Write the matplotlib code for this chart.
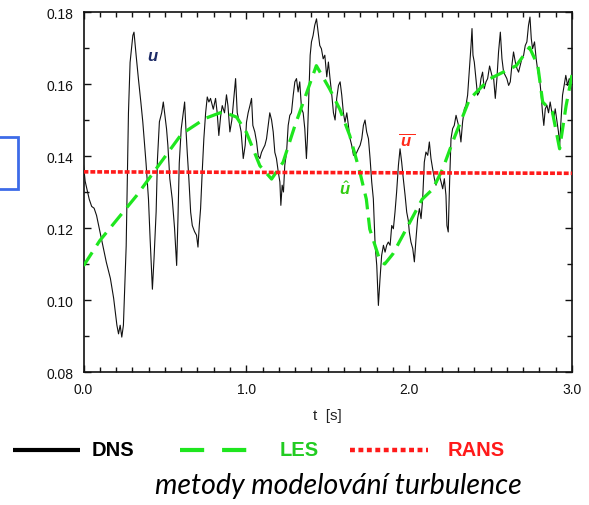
import matplotlib
matplotlib.use("Agg")
import matplotlib.pyplot as plt
from matplotlib.lines import Line2D
from matplotlib.patches import Rectangle
from matplotlib.ticker import MultipleLocator

# DNS trace (time [s], u)
dns_t = [0.0, 0.01, 0.02, 0.035, 0.05, 0.065, 0.08, 0.11, 0.14, 0.165, 0.185, 0.205,
         0.215, 0.225, 0.235, 0.245, 0.262, 0.276, 0.286, 0.303, 0.31, 0.323, 0.337,
         0.352, 0.364, 0.372, 0.384, 0.399, 0.409, 0.423, 0.433, 0.446, 0.454, 0.466,
         0.48, 0.49, 0.51, 0.518, 0.53, 0.545, 0.559, 0.572, 0.58, 0.588, 0.6, 0.613,
         0.621, 0.629, 0.637, 0.647, 0.658, 0.668, 0.682, 0.694, 0.703, 0.711, 0.719,
         0.729, 0.739, 0.75, 0.76, 0.77, 0.78, 0.797, 0.811, 0.821, 0.831, 0.842,
         0.852, 0.866, 0.878, 0.887, 0.899, 0.911, 0.923, 0.934, 0.944, 0.954, 0.968,
         0.981, 0.993, 1.001, 1.011, 1.022, 1.032, 1.04, 1.052, 1.063, 1.073, 1.083,
         1.093, 1.103, 1.114, 1.124, 1.134, 1.144, 1.155, 1.165, 1.175, 1.185, 1.196,
         1.206, 1.212, 1.22, 1.228, 1.236, 1.247, 1.257, 1.267, 1.277, 1.288, 1.298,
         1.308, 1.318, 1.328, 1.339, 1.349, 1.359, 1.369, 1.375, 1.384, 1.392, 1.4,
         1.41, 1.42, 1.431, 1.441, 1.451, 1.461, 1.472, 1.482, 1.494, 1.504, 1.514,
         1.525, 1.535, 1.545, 1.555, 1.566, 1.576, 1.586, 1.596, 1.606, 1.617, 1.627,
         1.637, 1.647, 1.658, 1.668, 1.678, 1.688, 1.699, 1.709, 1.719, 1.729, 1.739,
         1.75, 1.76, 1.77, 1.78, 1.791, 1.801, 1.811, 1.821, 1.831, 1.842, 1.852,
         1.862, 1.872, 1.883, 1.893, 1.903, 1.913, 1.923, 1.934, 1.944, 1.954, 1.964,
         1.975, 1.985, 1.995, 2.001, 2.011, 2.022, 2.032, 2.042, 2.052, 2.063, 2.073,
         2.083, 2.093, 2.103, 2.114, 2.124, 2.134, 2.144, 2.155, 2.165, 2.175, 2.185,
         2.196, 2.206, 2.216, 2.226, 2.232, 2.24, 2.249, 2.257, 2.267, 2.277, 2.288,
         2.298, 2.308, 2.318, 2.328, 2.339, 2.349, 2.359, 2.369, 2.38, 2.386, 2.392,
         2.4, 2.41, 2.42, 2.431, 2.441, 2.451, 2.461, 2.472, 2.482, 2.494, 2.508,
         2.519, 2.529, 2.539, 2.549, 2.56, 2.57, 2.58, 2.59, 2.6, 2.611, 2.621, 2.631,
         2.641, 2.652, 2.662, 2.672, 2.682, 2.692, 2.703, 2.713, 2.723, 2.733, 2.742,
         2.75, 2.758, 2.77, 2.78, 2.791, 2.801, 2.811, 2.819, 2.827, 2.836, 2.846,
         2.856, 2.866, 2.877, 2.887, 2.897, 2.907, 2.917, 2.924, 2.932, 2.942, 2.952,
         2.962, 2.973, 2.983, 2.995]
dns_u = [0.1375, 0.133, 0.131, 0.128, 0.126, 0.1255, 0.1235, 0.117, 0.1105, 0.106,
         0.1005, 0.093, 0.0906, 0.093, 0.0897, 0.093, 0.115, 0.152, 0.166, 0.1735,
         0.1744, 0.168, 0.1615, 0.155, 0.1495, 0.145, 0.138, 0.128, 0.117, 0.103,
         0.1115, 0.1245, 0.139, 0.1495, 0.152, 0.155, 0.1475, 0.143, 0.1337, 0.128,
         0.12, 0.1096, 0.1226, 0.138, 0.1475, 0.152, 0.155, 0.1475, 0.141, 0.1337,
         0.1244, 0.1207, 0.119, 0.118, 0.1147, 0.1207, 0.1254, 0.1356, 0.1448, 0.152,
         0.1564, 0.155, 0.156, 0.153, 0.156, 0.152, 0.1457, 0.151, 0.154, 0.152, 0.157,
         0.154, 0.1467, 0.150, 0.156, 0.1615, 0.152, 0.150, 0.1467, 0.1393, 0.143,
         0.1494, 0.152, 0.154, 0.156, 0.1485, 0.1467, 0.1439, 0.140, 0.1393, 0.141,
         0.142, 0.143, 0.1448, 0.1485, 0.152, 0.150, 0.1467, 0.141, 0.1393, 0.1356,
         0.1328, 0.1263, 0.1319, 0.130, 0.1374, 0.141, 0.1485, 0.1513, 0.152, 0.1569,
         0.1606, 0.1615, 0.1578, 0.1606, 0.1531, 0.152, 0.1476, 0.1393, 0.1448, 0.1569,
         0.168, 0.1717, 0.1735, 0.1763, 0.1781, 0.1744, 0.1707, 0.1698, 0.167, 0.168,
         0.1620, 0.1661, 0.1615, 0.1569, 0.152, 0.150, 0.156, 0.1596, 0.1606, 0.1569,
         0.152, 0.1494, 0.152, 0.1485, 0.1448, 0.143, 0.1402, 0.1402, 0.141, 0.142,
         0.143, 0.1448, 0.1485, 0.150, 0.1467, 0.1448, 0.1393, 0.1328, 0.1281, 0.1152,
         0.1096, 0.0985, 0.1059, 0.1124, 0.1152, 0.1133, 0.1152, 0.1161, 0.1152,
         0.1207, 0.1198, 0.1244, 0.130, 0.1374, 0.142, 0.1383, 0.1337, 0.1291, 0.1244,
         0.122, 0.1189, 0.1161, 0.1143, 0.1106, 0.117, 0.1226, 0.1254, 0.1226, 0.1281,
         0.1383, 0.1411, 0.1402, 0.1439, 0.1393, 0.1365, 0.1337, 0.1319, 0.1337,
         0.1346, 0.1328, 0.1309, 0.1337, 0.1291, 0.1207, 0.1189, 0.1337, 0.1448,
         0.1476, 0.1485, 0.1513, 0.1494, 0.1476, 0.1439, 0.1494, 0.1531, 0.1541,
         0.1569, 0.1633, 0.1707, 0.1754, 0.168, 0.1661, 0.1615, 0.1569, 0.1578, 0.1615,
         0.1633, 0.1587, 0.1606, 0.1615, 0.1650, 0.1624, 0.1615, 0.156, 0.1615, 0.1689,
         0.1744, 0.167, 0.1633, 0.1624, 0.1615, 0.1596, 0.1606, 0.1652, 0.1689, 0.1661,
         0.1643, 0.1633, 0.1652, 0.167, 0.168, 0.1707, 0.1717, 0.1763, 0.1786, 0.1726,
         0.1698, 0.1717, 0.167, 0.1633, 0.1615, 0.1569, 0.152, 0.1485, 0.1531, 0.1541,
         0.152, 0.155, 0.152, 0.150, 0.1531, 0.150, 0.1467, 0.1425, 0.1494, 0.1569,
         0.1596, 0.1624, 0.1596, 0.1615, 0.1606]

# LES (filtered) curve
les_t = [0.0, 0.1, 0.326, 0.602, 0.75, 0.856, 0.94, 1.0, 1.083, 1.155, 1.226, 1.298,
         1.43, 1.512, 1.574, 1.635, 1.697, 1.737, 1.758, 1.82, 1.85, 1.9, 2.08, 2.145,
         2.206, 2.267, 2.371, 2.493, 2.658, 2.739, 2.79, 2.82, 2.88, 2.924, 2.964, 3.0]
les_u = [0.1095, 0.1165, 0.129, 0.1461, 0.1505, 0.1523, 0.1508, 0.1466, 0.1373,
         0.1336, 0.1383, 0.1484, 0.1651, 0.1586, 0.153, 0.1457, 0.1356, 0.128, 0.1197,
         0.111, 0.110, 0.1128, 0.128, 0.1308, 0.1364, 0.1439, 0.1558, 0.1614, 0.1651,
         0.1702, 0.1651, 0.155, 0.1522, 0.142, 0.154, 0.1625]

# RANS mean value
rans_t = [0.0, 3.0]
rans_u = [0.1356, 0.1352]

fig = plt.figure(figsize=(5.89, 5.06), dpi=100)
ax = fig.add_axes([0.1418, 0.2628, 0.8293, 0.7115])

ax.plot(dns_t, dns_u, color="#111111", lw=0.8, zorder=2)
ax.plot(les_t, les_u, color="#1ee61e", lw=2.3, dashes=(5.0, 2.6),
        dash_capstyle="butt", zorder=3)
ax.plot(rans_t, rans_u, color="#ff1a1a", lw=2.6, dashes=(1.35, 0.55),
        dash_capstyle="butt", zorder=4)

ax.set_xlim(0, 3.0)
ax.set_ylim(0.08, 0.18)
ax.xaxis.set_major_locator(MultipleLocator(1.0))
ax.xaxis.set_minor_locator(MultipleLocator(0.1))
ax.yaxis.set_major_locator(MultipleLocator(0.02))
ax.yaxis.set_minor_locator(MultipleLocator(0.01))
ax.xaxis.set_major_formatter(plt.FuncFormatter(lambda v, p: f"{v:.1f}"))
ax.yaxis.set_major_formatter(plt.FuncFormatter(lambda v, p: f"{v:.2f}"))
ax.tick_params(which="both", direction="in", top=True, right=True, width=1.0,
               labelsize=10, pad=7, colors="#111111")
ax.tick_params(which="major", length=5)
ax.tick_params(which="minor", length=3.5)
for lab in ax.get_xticklabels() + ax.get_yticklabels():
    lab.set_fontfamily("Liberation Sans")
for s in ax.spines.values():
    s.set_linewidth(1.2)
    s.set_color("#111111")

ax.set_xlabel("t  [s]", fontsize=11, family="Liberation Sans", labelpad=9,
              color="#222222")

# curve labels
mt = {"family": "Liberation Sans", "style": "italic", "weight": "bold"}
ax.text(0.42, 0.1678, "u", color="#1c2a66", fontsize=12, ha="center", va="center", **mt)
plt.rcParams["mathtext.fontset"] = "custom"
plt.rcParams["mathtext.it"] = "Liberation Sans:italic:bold"
plt.rcParams["mathtext.rm"] = "Liberation Sans"
ax.text(1.985, 0.1445, r"$\overline{\,u\,}$", color="#ff2a1a", fontsize=12,
        ha="center", va="center")
ax.text(1.604, 0.1308, r"$\hat{u}$", color="#33cc11", fontsize=12,
        ha="center", va="center")

# legend drawn below the axes
ly = 1 - 451 / 506
W = 589.0
fig.add_artist(Line2D([13 / W, 80 / W], [ly, ly], color="black", lw=3.0,
                      transform=fig.transFigure, solid_capstyle="butt"))
fig.add_artist(Line2D([180 / W, 259 / W], [ly, ly], color="#1ee61e", lw=3.0,
                      dashes=(5.8, 4.3), dash_capstyle="butt", transform=fig.transFigure))
fig.add_artist(Line2D([350 / W, 428 / W], [ly, ly], color="#ff1a1a", lw=3.2,
                      dashes=(1.1, 0.8), dash_capstyle="butt", transform=fig.transFigure))
lf = {"family": "Liberation Sans", "weight": "bold", "fontsize": 14.5, "va": "center"}
fig.text(92 / W, ly, "DNS", color="black", **lf)
fig.text(280 / W, ly, "LES", color="#22cc22", **lf)
fig.text(448 / W, ly, "RANS", color="#ff1a1a", **lf)

fig.text(338 / W, 1 - 486 / 506, "metody modelování turbulence", family="Lato",
         style="italic", fontsize=20.5, ha="center", va="center", color="black")

# part of a blue frame at the left edge
fig.add_artist(Rectangle((-10 / W, 1 - 190 / 506), 28 / W, 52 / 506, fill=False,
                         edgecolor="#3d6be8", lw=2.0, transform=fig.transFigure))

fig.savefig("out.png", dpi=100)
